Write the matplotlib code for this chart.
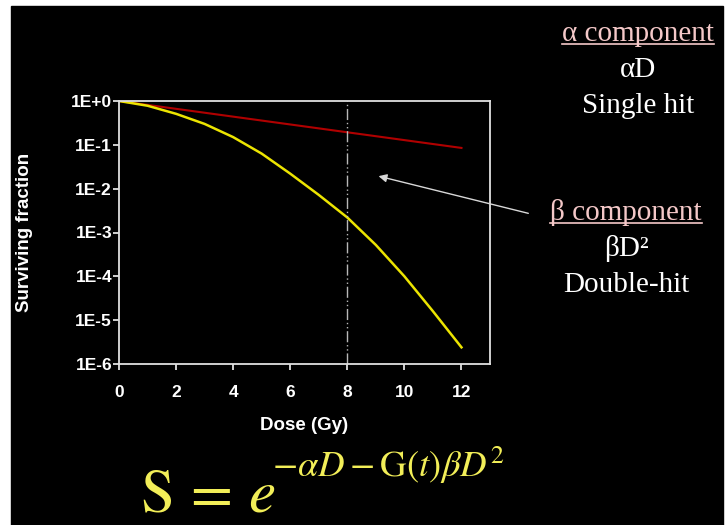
import numpy as np
import matplotlib
matplotlib.use("Agg")
import matplotlib.pyplot as plt
from matplotlib.patches import Rectangle
from matplotlib.lines import Line2D

# Data
dose = [0, 1, 2, 3, 4, 5, 6, 7, 8, 9, 10, 11, 12]
lq_survival = [1.0, 0.78, 0.51, 0.30, 0.15, 0.063, 0.022, 0.0072, 0.0022,
               5.2e-4, 1.0e-4, 1.6e-5, 2.4e-6]
alpha_dose = [0, 12]
alpha_survival = [1.0, 0.085]
marker_dose = 8
x_ticks = [0, 2, 4, 6, 8, 10, 12]
y_ticks = [1, 1e-1, 1e-2, 1e-3, 1e-4, 1e-5, 1e-6]
y_tick_labels = ["1E+0", "1E-1", "1E-2", "1E-3", "1E-4", "1E-5", "1E-6"]

W, H = 725, 525


def px(x, y):
    # pixel (from top-left) -> figure fraction
    return x / W, 1 - y / H


fig = plt.figure(figsize=(W / 100, H / 100), dpi=100, facecolor="white")
fig.add_artist(Rectangle((11 / W, 0), (W - 13) / W, (H - 6) / H,
                         transform=fig.transFigure, color="black", zorder=0))

ax = fig.add_axes([119 / W, 1 - 364 / H, 371 / W, 263 / H])
ax.set_facecolor("black")
ax.plot(alpha_dose, alpha_survival, color="#b00000", lw=1.5)
ax.plot(dose, lq_survival, color="#ece400", lw=1.8)
ax.axvline(marker_dose, color="#b8b8b8", lw=1, ls=(0, (8, 2, 1, 2, 1, 2)))

ax.set_yscale("log")
ax.set_xlim(0, 13)
ax.set_ylim(1e-6, 1)
ax.set_xticks(x_ticks)
ax.set_yticks(y_ticks)
ax.set_yticklabels(y_tick_labels)
ax.minorticks_off()
for s in ax.spines.values():
    s.set_color("#e0e0e0")
    s.set_linewidth(1.3)
ax.tick_params(colors="#e0e0e0", length=4, width=1.3, direction="out")
ax.tick_params(axis="x", pad=11, labelcolor="white")
ax.tick_params(axis="y", pad=1, labelcolor="white")
for lab in ax.get_xticklabels() + ax.get_yticklabels():
    lab.set_fontfamily("Liberation Sans")
    lab.set_fontweight("bold")
    lab.set_fontsize(12.5)

ax.set_xlabel("Dose (Gy)", color="white", fontsize=13.5, fontweight="bold",
              family="Liberation Sans")
ax.set_ylabel("Surviving fraction", color="white", fontsize=13.5,
              fontweight="bold", family="Liberation Sans")
ax.xaxis.set_label_coords(0.5, -0.2)
ax.yaxis.set_label_coords(-0.232, 0.5)

# arrow pointing at the gap between the two curves
ax.annotate("", xy=(9.0, 0.02), xycoords="data",
            xytext=px(531, 214), textcoords="figure fraction",
            arrowprops=dict(arrowstyle="-|>", color="#d8d8d8", lw=1,
                            mutation_scale=12), annotation_clip=False)

serif = dict(family="Liberation Serif", fontsize=21, ha="center",
             va="baseline")
pink = "#f4c8c8"
t_alpha = fig.text(*px(638, 41), "α component", color=pink, **serif)
fig.text(*px(638, 77), "αD", color="white", **serif)
fig.text(*px(638, 113), "Single hit", color="white", **serif)
t_beta = fig.text(*px(626, 220), "β component", color=pink, **serif)
fig.text(*px(626, 256), "βD²", color="white", **serif)
fig.text(*px(626, 292), "Double-hit", color="white", **serif)

# survival equation
eq_color = "#f2ee58"
fig.text(*px(140, 512), r"$\mathrm{S}\,=\,e$", color=eq_color, fontsize=44,
         math_fontfamily="stix", va="baseline")
fig.text(*px(272, 477), r"$-\alpha D-\mathrm{G}(t)\beta D^{2}$",
         color=eq_color, fontsize=26.5, math_fontfamily="stix", va="baseline")

# underline the component headings
fig.canvas.draw()
r = fig.canvas.get_renderer()
for t in (t_alpha, t_beta):
    bb = t.get_window_extent(r)
    y = bb.y0 + 3
    fig.add_artist(Line2D([bb.x0 / W, bb.x1 / W], [y / H, y / H],
                          transform=fig.transFigure, color=pink, lw=1.2))

fig.savefig("out.png", dpi=100, facecolor=fig.get_facecolor())
